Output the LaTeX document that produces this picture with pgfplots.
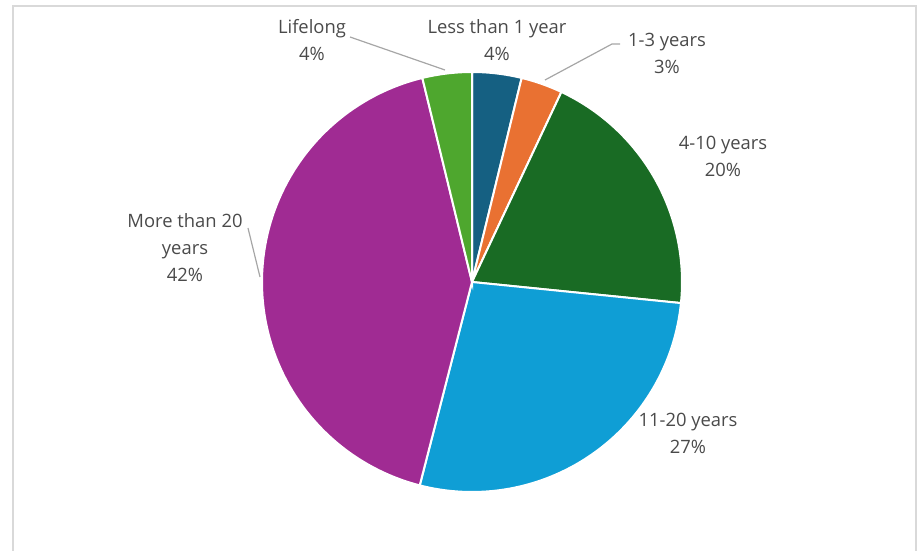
\documentclass[border=0pt]{standalone}
\usepackage{pgfplots}
\pgfplotsset{compat=1.18}
\usepackage{fontspec}
\setmainfont{Open Sans}
\definecolor{cA}{HTML}{156082}
\definecolor{cB}{HTML}{E97132}
\definecolor{cC}{HTML}{196B24}
\definecolor{cD}{HTML}{0F9ED5}
\definecolor{cE}{HTML}{A02B93}
\definecolor{cF}{HTML}{4EA72E}
\definecolor{lbl}{HTML}{4A4A4A}
\definecolor{lead}{HTML}{A6A6A6}
\tikzset{lab/.style={font=\fontsize{9.2}{13.5}\selectfont, text=lbl, align=center, inner sep=0pt}}
% slice: #1 cumulative start (%), #2 cumulative end (%), #3 colour
\newcommand{\pieslice}[3]{%
  \addplot[fill=#3, draw=white, line width=1pt, domain=90-3.6*#2:90-3.6*#1,
    samples=90, variable=\t] ({472+210*cos(\t)},{269+210*sin(\t)}) -- (axis cs:472,269) -- cycle;}
\begin{document}
\begin{tikzpicture}
\begin{axis}[
  scale only axis, width=458.5pt, height=275.5pt,
  xmin=0, xmax=917, ymin=0, ymax=551,
  hide axis, clip=false,
]
% full canvas (keeps the bounding box)
\path (axis cs:0,0) rectangle (axis cs:917,551);
% chart-area border
\draw[black!15, line width=1pt] (axis cs:13,0) -- (axis cs:13,545) -- (axis cs:916,545) -- (axis cs:916,0);
% shares (percent): 3.8, 3.2, 19.6, 27.4, 42.2, 3.8
\pieslice{0}{3.8}{cA}     % Less than 1 year
\pieslice{3.8}{7.0}{cB}   % 1-3 years
\pieslice{7.0}{26.6}{cC}  % 4-10 years
\pieslice{26.6}{54.0}{cD} % 11-20 years
\pieslice{54.0}{96.2}{cE} % More than 20 years
\pieslice{96.2}{100}{cF}  % Lifelong
% leader lines
\draw[lead, line width=0.6pt] (axis cs:350,514) -- (axis cs:445,481);
\draw[lead, line width=0.6pt] (axis cs:620,507) -- (axis cs:612,507) -- (axis cs:545,471);
\draw[lead, line width=0.6pt] (axis cs:248,323) -- (axis cs:260,274);
% labels
\node[lab] at (axis cs:312,511) {Lifelong\\4\%};
\node[lab] at (axis cs:497,511) {Less than 1 year\\4\%};
\node[lab] at (axis cs:667,497.5) {1-3 years\\3\%};
\node[lab] at (axis cs:723,394.5) {4-10 years\\20\%};
\node[lab] at (axis cs:688,117.5) {11-20 years\\27\%};
\node[lab] at (axis cs:185,303.5) {More than 20\\years\\42\%};
\end{axis}
\end{tikzpicture}
\end{document}
